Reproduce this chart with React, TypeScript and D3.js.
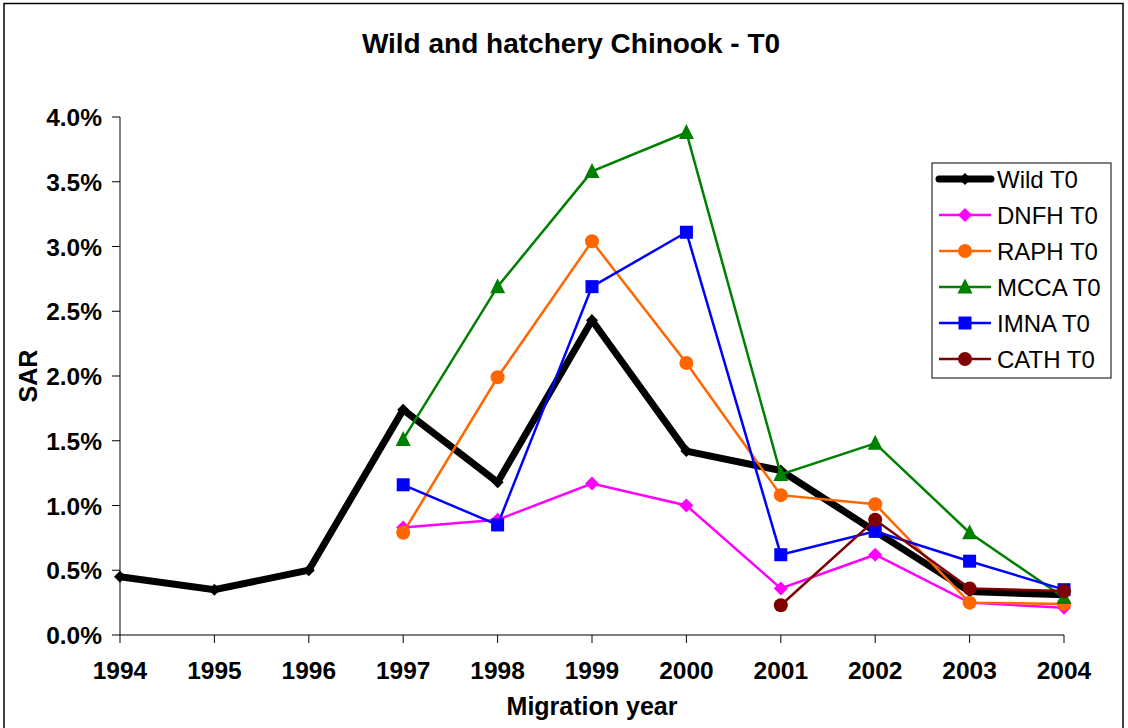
import React from "react";
import * as d3 from "d3";

const years = [1994, 1995, 1996, 1997, 1998, 1999, 2000, 2001, 2002, 2003, 2004];
const yTicks = [0, 0.5, 1.0, 1.5, 2.0, 2.5, 3.0, 3.5, 4.0];

const wild: (number | null)[] = [0.45, 0.35, 0.5, 1.74, 1.18, 2.43, 1.42, 1.27, 0.8, 0.335, 0.31];
const dnfh: (number | null)[] = [null, null, null, 0.83, 0.89, 1.17, 1.0, 0.36, 0.62, 0.25, 0.21];
const raph: (number | null)[] = [null, null, null, 0.79, 1.99, 3.04, 2.1, 1.08, 1.01, 0.25, 0.24];
const mcca: (number | null)[] = [null, null, null, 1.51, 2.69, 3.58, 3.88, 1.24, 1.48, 0.79, 0.29];
const imna: (number | null)[] = [null, null, null, 1.16, 0.85, 2.69, 3.11, 0.62, 0.8, 0.57, 0.35];
const cath: (number | null)[] = [null, null, null, null, null, null, null, 0.23, 0.89, 0.36, 0.34];

type Series = { name: string; values: (number | null)[]; color: string; width: number; marker: string; size: number };
const series: Series[] = [
  { name: "Wild T0", values: wild, color: "#000000", width: 7, marker: "diamond", size: 12 },
  { name: "DNFH T0", values: dnfh, color: "#FF00FF", width: 2.5, marker: "diamond", size: 14 },
  { name: "RAPH T0", values: raph, color: "#FF6600", width: 2.5, marker: "circle", size: 14 },
  { name: "MCCA T0", values: mcca, color: "#008000", width: 2.5, marker: "triangle", size: 15 },
  { name: "IMNA T0", values: imna, color: "#0000FF", width: 2.5, marker: "square", size: 13 },
  { name: "CATH T0", values: cath, color: "#800000", width: 2.5, marker: "circle", size: 14 },
];

const FONT = "'Liberation Sans', Arial, sans-serif";

function Marker({ type, x, y, size, color }: { type: string; x: number; y: number; size: number; color: string }) {
  const h = size / 2;
  if (type === "circle") return <circle cx={x} cy={y} r={h} fill={color} />;
  if (type === "square") return <rect x={x - h} y={y - h} width={size} height={size} fill={color} />;
  if (type === "diamond")
    return <path d={`M${x},${y - h}L${x + h},${y}L${x},${y + h}L${x - h},${y}Z`} fill={color} />;
  // triangle
  return <path d={`M${x},${y - h - 1}L${x + h},${y + h - 1}L${x - h},${y + h - 1}Z`} fill={color} />;
}

export default function App() {
  const x = d3.scaleLinear().domain([1994, 2004]).range([120, 1064]);
  const y = d3.scaleLinear().domain([0, 4]).range([635, 117]);

  const line = d3
    .line<number | null>()
    .defined((d) => d !== null)
    .x((_, i) => x(years[i]))
    .y((d) => y(d as number));

  const legendX = 932;
  const legendY = 163;

  return (
    <svg width={1128} height={728} style={{ position: "absolute", left: 0, top: 0, background: "#fff" }}>
      <rect x={4} y={3.5} width={1119} height={740} fill="#fff" stroke="#000" strokeWidth={1.5} />
      <text x={571} y={53} textAnchor="middle" fontFamily={FONT} fontWeight="bold" fontSize={28}>
        Wild and hatchery Chinook - T0
      </text>

      {/* axes */}
      <line x1={120} y1={117} x2={120} y2={635} stroke="#000" strokeWidth={1} />
      <line x1={120} y1={635} x2={1064} y2={635} stroke="#000" strokeWidth={1} />
      {yTicks.map((t) => (
        <g key={t}>
          <line x1={112} x2={120} y1={y(t)} y2={y(t)} stroke="#000" />
          <text x={102} y={y(t) + 9} textAnchor="end" fontFamily={FONT} fontWeight="bold" fontSize={24.5}>
            {t.toFixed(1) + "%"}
          </text>
        </g>
      ))}
      {years.map((yr) => (
        <g key={yr}>
          <line x1={x(yr)} x2={x(yr)} y1={635} y2={643} stroke="#000" />
          <text x={x(yr)} y={679} textAnchor="middle" fontFamily={FONT} fontWeight="bold" fontSize={24.5}>
            {yr}
          </text>
        </g>
      ))}
      <text x={592} y={715} textAnchor="middle" fontFamily={FONT} fontWeight="bold" fontSize={25}>
        Migration year
      </text>
      <text
        transform={`translate(37,376) rotate(-90)`}
        textAnchor="middle"
        fontFamily={FONT}
        fontWeight="bold"
        fontSize={25}
      >
        SAR
      </text>

      {/* series */}
      {series.map((s) => (
        <g key={s.name}>
          <path d={line(s.values) || ""} fill="none" stroke={s.color} strokeWidth={s.width} strokeLinejoin="miter" />
          {s.values.map((v, i) =>
            v === null ? null : <Marker key={i} type={s.marker} x={x(years[i])} y={y(v)} size={s.size} color={s.color} />
          )}
        </g>
      ))}

      {/* legend */}
      <rect x={legendX} y={legendY} width={179} height={215} fill="#fff" stroke="#000" strokeWidth={1} />
      {series.map((s, i) => {
        const cy = 179 + i * 36;
        return (
          <g key={s.name}>
            <line x1={939} x2={991} y1={cy} y2={cy} stroke={s.color} strokeWidth={s.width} strokeLinecap={i === 0 ? "round" : "butt"} />
            <Marker type={s.marker} x={965} y={cy} size={s.size} color={s.color} />
            <text x={997} y={cy + 8.5} fontFamily={FONT} fontSize={24}>
              {s.name}
            </text>
          </g>
        );
      })}
    </svg>
  );
}
